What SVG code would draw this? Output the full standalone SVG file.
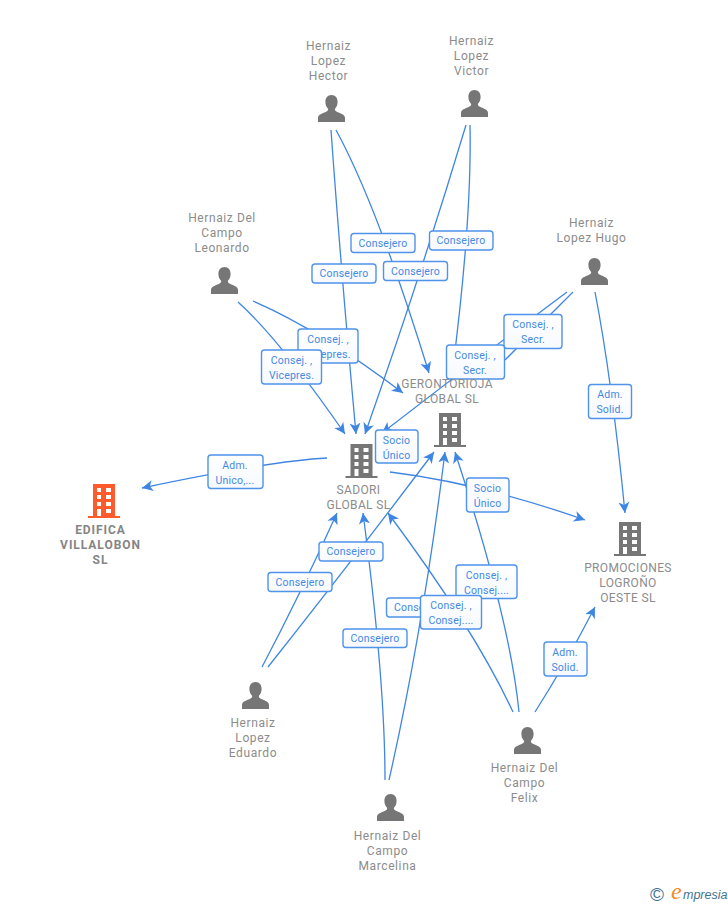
<svg xmlns="http://www.w3.org/2000/svg" xmlns:xlink="http://www.w3.org/1999/xlink" width="728" height="905" viewBox="0 0 728 905">
<style>
.bg{fill:#fff}
.c{fill:none;stroke:#3f86e2;stroke-width:1.3;marker-end:url(#a)}
.n{fill:none;stroke:#3f86e2;stroke-width:1.3}
.b{fill:url(#g);stroke:#4f93ea;stroke-width:1.4}
.l{font-family:Roboto,"Liberation Sans",sans-serif;font-size:10.5px;fill:#4489e4;text-anchor:middle;letter-spacing:.2px}
.t{font-family:Roboto,"Liberation Sans",sans-serif;font-size:12px;fill:#8c8c8c;text-anchor:middle;letter-spacing:.35px}
.w{letter-spacing:.6px}
.tb{font-weight:700;fill:#858585;letter-spacing:.95px}
.i{fill:#767676}
</style>
<defs>
<linearGradient id="g" x1="0" y1="0" x2="0" y2="1"><stop offset="0" stop-color="#fff"/><stop offset="1" stop-color="#f6f9fe"/></linearGradient>
<marker id="a" markerUnits="userSpaceOnUse" markerWidth="14" markerHeight="14" refX="11" refY="6" orient="auto"><path d="M11,6 L0,0.5 L3,6 L0,11.5 Z" fill="#3f86e2"/></marker>
<symbol id="p" viewBox="0 0 27 27" overflow="visible"><path d="M13.5,0 C17.5,0 19.6,3.2 19.6,7 C19.6,10 18.5,12.3 16.8,14 C16.8,15.8 18,16.6 20.5,17.6 C24.5,19.2 27,20.5 27,23 L27,27 L0,27 L0,23 C0,20.5 2.5,19.2 6.5,17.6 C9,16.6 10.2,15.8 10.2,14 C8.5,12.3 7.4,10 7.4,7 C7.4,3.2 9.5,0 13.5,0 Z"/></symbol>
<symbol id="h" viewBox="0 0 32 34" overflow="visible"><path fill-rule="evenodd" d="M5,0 H27 V32 H32 V34 H0 V32 H5 Z M9,4 V8 H13 V4 Z M18,4 V8 H23 V4 Z M9,11 V15 H13 V11 Z M18,11 V15 H23 V11 Z M9,18 V22 H13 V18 Z M18,18 V22 H23 V18 Z M9,25 V32 H13 V25 Z M18,25 V29 H23 V25 Z"/></symbol>
</defs>
<rect class="bg" width="728" height="905"/>
<g id="connectors">
<path class="c" d="M331,130 Q341,270 356,434"/>
<path class="c" d="M336,130 Q377,205 429,373"/>
<path class="c" d="M466,125 Q421,275 365,434"/>
<path class="c" d="M470,125 Q472,220 452,375"/>
<path class="c" d="M238,302 Q280,340 345,434"/>
<path class="c" d="M253,301 Q320,330 403,393"/>
<path class="c" d="M567,292 Q500,342 382,433"/>
<path class="n" d="M573,292 Q540,325 505,360"/>
<path class="c" d="M595,292 Q612,380 625,513"/>
<path class="c" d="M327,458 Q270,461 142,488"/>
<path class="c" d="M390,472 Q480,483 585,520"/>
<path class="c" d="M262,667 Q300,595 337,513"/>
<path class="c" d="M268,667 Q345,570 434,452"/>
<path class="c" d="M385,780 Q385,680 363,513"/>
<path class="c" d="M389,780 Q423,630 445,452"/>
<path class="c" d="M513,712 Q475,630 388,513"/>
<path class="c" d="M519,712 Q510,620 455,452"/>
<path class="c" d="M535,712 Q565,665 595,607"/>
</g>
<g id="edge-labels">
<g><rect class="b" x="351" y="233.500" width="64" height="19" rx="3"/><text class="l" x="383" y="246.500">Consejero</text></g>
<g><rect class="b" x="429.500" y="231" width="63.500" height="19" rx="3"/><text class="l" x="461" y="244">Consejero</text></g>
<g><rect class="b" x="312" y="264" width="64" height="19" rx="3"/><text class="l" x="344" y="277">Consejero</text></g>
<g><rect class="b" x="383.500" y="261.500" width="64" height="19" rx="3"/><text class="l" x="415.500" y="274.500">Consejero</text></g>
<g><rect class="b" x="298" y="329" width="60" height="34" rx="3"/><text class="l" x="328" y="342.500">Consej. ,</text><text class="l" x="328" y="357.500">Vicepres.</text></g>
<g><rect class="b" x="261.500" y="350" width="60" height="34" rx="3"/><text class="l" x="291.500" y="363.500">Consej. ,</text><text class="l" x="291.500" y="378.500">Vicepres.</text></g>
<g><rect class="b" x="504" y="314.500" width="58" height="34" rx="3"/><text class="l" x="533" y="328">Consej. ,</text><text class="l" x="533" y="343">Secr.</text></g>
<g><rect class="b" x="446.500" y="345" width="58" height="34" rx="3"/><text class="l" x="475" y="358.500">Consej. ,</text><text class="l" x="475" y="373.500">Secr.</text></g>
<g><rect class="b" x="375.500" y="430" width="42.500" height="33" rx="3"/><text class="l" x="396.500" y="443.500">Socio</text><text class="l" x="396.500" y="458.500">Único</text></g>
<g><rect class="b" x="208" y="455" width="55" height="33.500" rx="3"/><text class="l" x="235" y="468.500">Adm.</text><text class="l" x="235" y="483.500">Unico,...</text></g>
<g><rect class="b" x="466.500" y="478" width="42.500" height="34" rx="3"/><text class="l" x="487.500" y="491.500">Socio</text><text class="l" x="487.500" y="506.500">Único</text></g>
<g><rect class="b" x="588.500" y="384.500" width="43" height="34" rx="3"/><text class="l" x="610" y="398">Adm.</text><text class="l" x="610" y="413">Solid.</text></g>
<g><rect class="b" x="319" y="542" width="64" height="19" rx="3"/><text class="l" x="351" y="555">Consejero</text></g>
<g><rect class="b" x="268" y="572.500" width="64" height="19" rx="3"/><text class="l" x="300" y="585.500">Consejero</text></g>
<g><rect class="b" x="456" y="565" width="61" height="33.500" rx="3"/><text class="l" x="486.500" y="578.500">Consej. ,</text><text class="l" x="486.500" y="593.500">Consej....</text></g>
<g><rect class="b" x="386.500" y="598" width="64" height="19" rx="3"/><text class="l" x="418.500" y="611">Consejero</text></g>
<g><rect class="b" x="420.500" y="595.500" width="61" height="33.500" rx="3"/><text class="l" x="451" y="609">Consej. ,</text><text class="l" x="451" y="624">Consej....</text></g>
<g><rect class="b" x="343" y="629" width="64" height="18.500" rx="3"/><text class="l" x="375" y="642">Consejero</text></g>
<g><rect class="b" x="544" y="642" width="43" height="34" rx="3"/><text class="l" x="565" y="655.500">Adm.</text><text class="l" x="565" y="670.500">Solid.</text></g>
</g>
<g id="hector"><use class="i" href="#p" x="318" y="95" width="27" height="27"/><text class="t w" x="328.500" y="50">Hernaiz</text><text class="t w" x="328.500" y="65">Lopez</text><text class="t w" x="328.500" y="80">Hector</text></g>
<g id="victor"><use class="i" href="#p" x="461" y="90" width="27" height="27"/><text class="t w" x="471.500" y="45">Hernaiz</text><text class="t w" x="471.500" y="60">Lopez</text><text class="t w" x="471.500" y="75">Victor</text></g>
<g id="leonardo"><use class="i" href="#p" x="211" y="267" width="27" height="27"/><text class="t w" x="222" y="222">Hernaiz Del</text><text class="t w" x="222" y="237">Campo</text><text class="t w" x="222" y="252">Leonardo</text></g>
<g id="hugo"><use class="i" href="#p" x="581" y="258" width="27" height="27"/><text class="t w" x="591.500" y="227">Hernaiz</text><text class="t w" x="591.500" y="242">Lopez Hugo</text></g>
<g id="eduardo"><use class="i" href="#p" x="242" y="682" width="27" height="27"/><text class="t w" x="253" y="727">Hernaiz</text><text class="t w" x="253" y="742">Lopez</text><text class="t w" x="253" y="757">Eduardo</text></g>
<g id="felix"><use class="i" href="#p" x="514" y="727" width="27" height="27"/><text class="t w" x="524.500" y="772">Hernaiz Del</text><text class="t w" x="524.500" y="787">Campo</text><text class="t w" x="524.500" y="802">Felix</text></g>
<g id="marcelina"><use class="i" href="#p" x="377" y="794" width="27" height="27"/><text class="t w" x="387.500" y="840">Hernaiz Del</text><text class="t w" x="387.500" y="855">Campo</text><text class="t w" x="387.500" y="870">Marcelina</text></g>
<g id="gerontorioja"><use class="i" href="#h" x="434" y="413" width="32" height="34"/><text class="t" x="447" y="388">GERONTORIOJA</text><text class="t" x="447" y="403">GLOBAL SL</text></g>
<g id="sadori"><use class="i" href="#h" x="345.500" y="444" width="32" height="34"/><text class="t" x="358.500" y="494">SADORI</text><text class="t" x="358.500" y="509">GLOBAL SL</text></g>
<g id="promociones"><use class="i" href="#h" x="614" y="522" width="32" height="34"/><text class="t" x="628" y="572">PROMOCIONES</text><text class="t" x="628" y="587">LOGROÑO</text><text class="t" x="628" y="602">OESTE SL</text></g>
<g id="edifica"><use href="#h" fill="#ff5a2c" x="88" y="484" width="32" height="34"/><text class="t tb" x="100.500" y="534">EDIFICA</text><text class="t tb" x="100.500" y="549">VILLALOBON</text><text class="t tb" x="100.500" y="564">SL</text></g>
<g id="logo"><text x="650" y="901" font-family="'Liberation Sans',sans-serif" font-size="19" fill="#3f7390">©</text><text x="671" y="899" font-family="'Liberation Serif',serif" font-style="italic" font-size="24" fill="#f08a2a">e</text><text x="683" y="899" font-family="'Liberation Sans',sans-serif" font-style="italic" font-size="12.500" fill="#3f7390">mpresia</text></g>
</svg>
